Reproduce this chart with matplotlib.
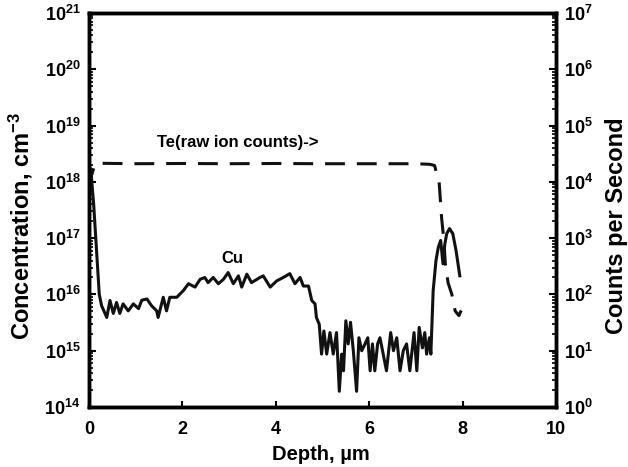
import matplotlib
matplotlib.use("Agg")
import matplotlib.pyplot as plt
import numpy as np
from matplotlib.ticker import FixedLocator, FuncFormatter, LogLocator, NullFormatter

plt.rcParams['font.family'] = ['Liberation Sans', 'DejaVu Sans']
plt.rcParams['font.weight'] = 'bold'
plt.rcParams['mathtext.fontset'] = 'custom'
plt.rcParams['mathtext.rm'] = 'Liberation Sans:bold'
plt.rcParams['mathtext.bf'] = 'Liberation Sans:bold'
plt.rcParams['mathtext.it'] = 'Liberation Sans:bold'
plt.rcParams['mathtext.default'] = 'bf'

# Cu concentration (cm^-3) vs depth (um)
cu_depth = [0.00, 0.04, 0.10, 0.16, 0.22, 0.27, 0.38, 0.45, 0.52, 0.59, 0.66, 0.73,
            0.84, 0.95, 1.06, 1.13, 1.24, 1.34, 1.45, 1.48, 1.59, 1.66, 1.73, 1.88,
            2.02, 2.13, 2.27, 2.38, 2.48, 2.55, 2.66, 2.77, 2.88, 2.98, 3.09, 3.20,
            3.27, 3.38, 3.48, 3.66, 3.73, 3.88, 4.02, 4.16, 4.30, 4.41, 4.52, 4.59,
            4.70, 4.77, 4.84, 4.87, 4.93, 4.98, 5.03, 5.09, 5.16, 5.23, 5.30, 5.36,
            5.41, 5.45, 5.50, 5.55, 5.60, 5.66, 5.73, 5.78, 5.84, 5.91, 5.97, 6.02,
            6.07, 6.12, 6.18, 6.23, 6.30, 6.37, 6.46, 6.52, 6.59, 6.66, 6.73, 6.80,
            6.87, 6.96, 7.02, 7.07, 7.14, 7.19, 7.23, 7.29, 7.32, 7.37, 7.43, 7.48,
            7.53, 7.58, 7.62, 7.66, 7.72, 7.79, 7.86, 7.94]
cu_conc = [2.0e18, 1.6e18, 4.0e17, 6.3e16, 1.0e16, 6.3e15, 3.9e15, 7.8e15, 4.6e15, 7.2e15, 4.6e15, 6.8e15,
           5.1e15, 6.8e15, 5.6e15, 7.9e15, 8.3e15, 6.3e15, 5.1e15, 3.9e15, 8.9e15, 5.1e15, 8.9e15, 8.9e15,
           1.17e16, 1.55e16, 1.35e16, 1.86e16, 2.0e16, 1.62e16, 2.0e16, 1.55e16, 1.86e16, 2.45e16, 1.55e16, 2.14e16,
           1.35e16, 2.29e16, 1.62e16, 2.0e16, 2.14e16, 1.35e16, 1.74e16, 2.0e16, 2.34e16, 1.55e16, 2.0e16, 1.41e16,
           1.41e16, 7.8e15, 6.8e15, 3.9e15, 2.95e15, 8.7e14, 2.24e15, 8.7e14, 2.1e15, 8.7e14, 2.1e15, 1.9e14,
           8.7e14, 4.4e14, 3.4e15, 1.32e15, 3.2e15, 1.0e15, 1.9e14, 1.7e15, 1.0e15, 1.32e15, 1.7e15, 4.4e14,
           1.32e15, 4.4e14, 1.32e15, 1.7e15, 8.7e14, 4.4e14, 2.1e15, 1.0e15, 1.7e15, 4.4e14, 1.0e15, 1.32e15,
           4.4e14, 2.1e15, 4.4e14, 2.6e15, 1.12e15, 2.1e15, 8.7e14, 1.7e15, 8.7e14, 1.17e16, 4.0e16, 6.9e16,
           9.1e16, 3.5e16, 7.9e16, 1.2e17, 1.48e17, 1.2e17, 6.0e16, 2.14e16]

# Te raw ion counts (counts per second) vs depth (um)
te_depth = [0.00, 0.05, 0.12, 0.20, 1.0, 2.0, 3.0, 4.0, 5.0, 6.0, 7.0, 7.3, 7.4,
            7.5, 7.55, 7.60, 7.63, 7.69, 7.77, 7.84, 7.92, 7.97]
te_counts = [7.9e3, 1.26e4, 2.0e4, 2.14e4, 2.1e4, 2.12e4, 2.1e4, 2.12e4, 2.1e4, 2.1e4, 2.1e4, 2.05e4, 1.95e4,
             9.3e3, 2.3e3, 9.1e2, 3.5e2, 1.6e2, 1.0e2, 51, 42, 52]

x_ticks = [0, 2, 4, 6, 8, 10]

W, H = 628, 467
fig = plt.figure(figsize=(W / 100, H / 100), dpi=100)
ax = fig.add_axes([89 / W, 1 - 407 / H, (556 - 89) / W, (407 - 13) / H])
ax2 = ax.twinx()

ax.plot(cu_depth, cu_conc, color='#111111', lw=2.2, solid_joinstyle='round')
ax2.plot(te_depth, te_counts, color='#111111', lw=2.2, dashes=(6.5, 3.9))

ax.set_xlim(0, 10)
ax.set_yscale('log')
ax.set_ylim(1e14, 1e21)
ax2.set_yscale('log')
ax2.set_ylim(1e0, 1e7)


def fmt(v, pos):
    e = int(round(np.log10(v)))
    return r'$\mathbf{10^{%d}}$' % e


for a in (ax, ax2):
    a.yaxis.set_major_locator(LogLocator(base=10, numticks=20))
    a.yaxis.set_minor_locator(LogLocator(base=10, subs=np.arange(2, 10), numticks=20))
    a.yaxis.set_major_formatter(FuncFormatter(fmt))
    a.yaxis.set_minor_formatter(NullFormatter())
    for s in a.spines.values():
        s.set_linewidth(2.5)

ax.xaxis.set_major_locator(FixedLocator(x_ticks))
ax.set_xticklabels([str(t) for t in x_ticks])
ax.tick_params(axis='x', which='major', direction='in', length=4, width=1.5, labelsize=13, pad=10)
ax.tick_params(axis='y', which='major', direction='in', length=5, width=1.5, labelsize=13, pad=6)
ax.tick_params(axis='y', which='minor', direction='in', length=3, width=1.2)
ax2.tick_params(axis='y', which='major', direction='in', length=5, width=1.5, labelsize=13, pad=6)
ax2.tick_params(axis='y', which='minor', direction='in', length=3, width=1.2)

fig.text(321 / W, 1 - 455 / H, 'Depth, µm', fontsize=14.5, fontweight='bold',
         ha='center', va='center')
fig.text(21 / W, 1 - 226 / H, r'Concentration, cm$^{\mathbf{-3}}$', fontsize=17,
         fontweight='bold', rotation=90, ha='center', va='center')
fig.text(616 / W, 1 - 226 / H, 'Counts per Second', fontsize=17, fontweight='bold',
         rotation=90, ha='center', va='center')

ax.text(3.19, 10**18.7, 'Te(raw ion counts)->', ha='center', va='center', fontsize=12, fontweight='bold')
ax.text(3.06, 10**16.64, 'Cu', ha='center', va='center', fontsize=12, fontweight='bold')

fig.savefig('out.png', dpi=100)
